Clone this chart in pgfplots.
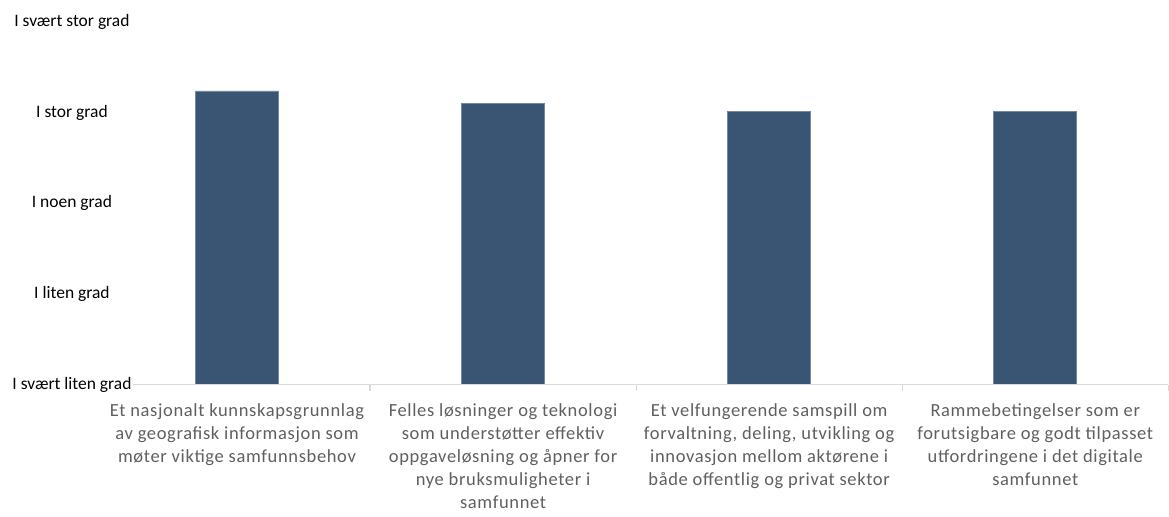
\documentclass[border=0pt]{standalone}
\usepackage{pgfplots}
\pgfplotsset{compat=1.18}
\usepackage{fontspec}
\setmainfont{Carlito}
\newfontfamily\catfont[LetterSpace=3.5]{Carlito}
\definecolor{barblue}{HTML}{3A5573}
\definecolor{axisgray}{HTML}{D9D9D9}
\definecolor{labelgray}{HTML}{5F5F5F}
\begin{document}
\begin{tikzpicture}
\begin{axis}[
  scale only axis,
  width=1065pt, height=363pt,
  xmin=0.5, xmax=4.5,
  ymin=1, ymax=5,
  axis line style={draw=none},
  axis x line*=bottom,
  axis y line=none,
  xtick={1,2,3,4},
  xticklabels={
    {Et nasjonalt kunnskapsgrunnlag\\av geografisk informasjon som\\møter viktige samfunnsbehov},
    {Felles løsninger og teknologi\\som understøtter effektiv\\oppgaveløsning og åpner for\\nye bruksmuligheter i\\samfunnet},
    {Et velfungerende samspill om\\forvaltning, deling, utvikling og\\innovasjon mellom aktørene i\\både offentlig og privat sektor},
    {Rammebetingelser som er\\forutsigbare og godt tilpasset\\utfordringene i det digitale\\samfunnet}},
  xticklabel style={align=center, text=labelgray, font=\catfont\fontsize{18.5}{23}\selectfont, anchor=north, yshift=-15pt},
  major tick length=0pt,
  ybar,
  bar width=83pt,
  clip=false,
]
\addplot[fill=barblue, draw=barblue!70!white, line width=0.6pt] coordinates {
  (1,4.24) (2,4.10) (3,4.01) (4,4.01)
};
% category axis
\draw[axisgray, line width=1.4pt] (axis cs:0.5,1) -- (axis cs:4.5,1);
\draw[axisgray, line width=1.2pt] (axis cs:1.5,1) -- ([yshift=-6pt]axis cs:1.5,1);
\draw[axisgray, line width=1.2pt] (axis cs:2.5,1) -- ([yshift=-6pt]axis cs:2.5,1);
\draw[axisgray, line width=1.2pt] (axis cs:3.5,1) -- ([yshift=-6pt]axis cs:3.5,1);
\draw[axisgray, line width=1.2pt] (axis cs:4.5,1) -- ([yshift=-6pt]axis cs:4.5,1);
% y category labels
\node[fill=white, inner sep=1pt, font=\fontsize{17.5}{19}\selectfont] at ([xshift=-32pt]axis cs:0.5,1) {I svært liten grad};
\node[fill=white, inner sep=1pt, font=\fontsize{17.5}{19}\selectfont] at ([xshift=-32pt]axis cs:0.5,2) {I liten grad};
\node[fill=white, inner sep=1pt, font=\fontsize{17.5}{19}\selectfont] at ([xshift=-32pt]axis cs:0.5,3) {I noen grad};
\node[fill=white, inner sep=1pt, font=\fontsize{17.5}{19}\selectfont] at ([xshift=-32pt]axis cs:0.5,4) {I stor grad};
\node[fill=white, inner sep=1pt, font=\fontsize{17.5}{19}\selectfont] at ([xshift=-32pt]axis cs:0.5,5) {I svært stor grad};
\end{axis}
\useasboundingbox ([xshift=-104pt,yshift=-132pt]current axis.south west) rectangle ++(1169pt,517pt);
\end{tikzpicture}
\end{document}
